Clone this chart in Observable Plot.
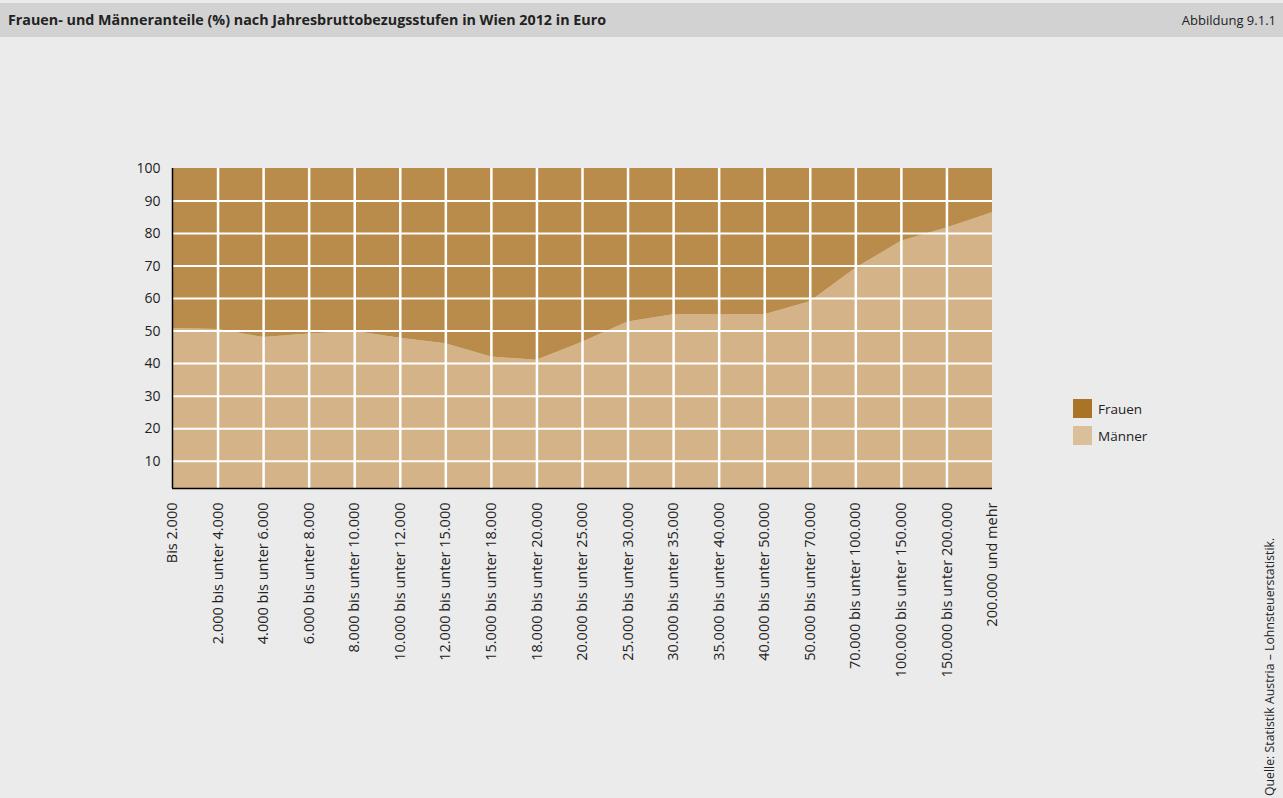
<!DOCTYPE html>
<html>
<head>
<meta charset="utf-8">
<script src="https://cdn.jsdelivr.net/npm/d3@7"></script>
<script src="https://cdn.jsdelivr.net/npm/@observablehq/plot@0.6"></script>
<style>
  html, body { margin: 0; padding: 0; background: #ebebeb; width: 1283px; height: 798px; overflow: hidden; font-family: "Open Sans", "DejaVu Sans", sans-serif; color: #222; }
  #header { position: absolute; left: 0; top: 3px; width: 1283px; height: 34px; background: #d2d2d2; }
  #title { position: absolute; left: 8px; top: 7px; font-size: 14.3px; line-height: 20px; font-weight: bold; white-space: nowrap; }
  #fig { position: absolute; right: 7px; top: 7px; font-size: 13px; line-height: 20px; white-space: nowrap; }
  #chart { position: absolute; left: 0; top: 37px; }
  #legend { position: absolute; left: 1073px; top: 395px; font-size: 13.5px; }
  .item { display: flex; align-items: center; height: 27px; }
  .sw { width: 19px; height: 19px; margin-right: 6px; }
  #source { position: absolute; left: 1262px; top: 796px; transform-origin: 0 0; transform: rotate(-90deg); font-size: 12.3px; line-height: 16px; white-space: nowrap; }
</style>
</head>
<body>
<div id="header"><div id="title">Frauen- und Männeranteile (%) nach Jahresbruttobezugsstufen in Wien 2012 in Euro</div><div id="fig">Abbildung 9.1.1</div></div>
<div id="chart"></div>
<div id="legend"></div>
<div id="source">Quelle: Statistik Austria – Lohnsteuerstatistik.</div>
<script>
const categories = [
  "Bis 2.000",
  "2.000 bis unter 4.000",
  "4.000 bis unter 6.000",
  "6.000 bis unter 8.000",
  "8.000 bis unter 10.000",
  "10.000 bis unter 12.000",
  "12.000 bis unter 15.000",
  "15.000 bis unter 18.000",
  "18.000 bis unter 20.000",
  "20.000 bis unter 25.000",
  "25.000 bis unter 30.000",
  "30.000 bis unter 35.000",
  "35.000 bis unter 40.000",
  "40.000 bis unter 50.000",
  "50.000 bis unter 70.000",
  "70.000 bis unter 100.000",
  "100.000 bis unter 150.000",
  "150.000 bis unter 200.000",
  "200.000 und mehr"
];
const maenner = [50.8, 50.5, 48.0, 49.1, 49.9, 47.8, 46.1, 42.0, 41.0, 46.6, 52.8, 55.0, 55.0, 55.0, 59.0, 69.3, 77.6, 81.7, 86.4];
const frauen = maenner.map(v => 100 - v);
const seriesNames = ["Männer", "Frauen"];
const areaColors = ["#d4b388", "#ba8c4c"];
const legendColors = { "Frauen": "#a97425", "Männer": "#dbbf9a" };
const yTicks = [10, 20, 30, 40, 50, 60, 70, 80, 90, 100];

const rows = [];
categories.forEach((c, i) => {
  rows.push({ cat: c, sex: "Männer", value: maenner[i] });
  rows.push({ cat: c, sex: "Frauen", value: frauen[i] });
});

const W = 1283, H = 761;
const plot = Plot.plot({
  width: W,
  height: H,
  marginLeft: 172,
  marginRight: 291,
  marginTop: 131,
  marginBottom: 310,
  style: { background: "transparent", fontFamily: "'Open Sans', sans-serif", fontSize: "13px", color: "#222" },
  x: { type: "point", domain: categories, padding: 0, round: false, inset: 0, axis: null, label: null },
  y: { domain: [1.6, 100], axis: null, label: null },
  color: { domain: seriesNames, range: areaColors },
  marks: [
    Plot.areaY(rows, { x: "cat", y: "value", fill: "sex", order: seriesNames, clip: true, curve: "linear" }),
    Plot.ruleY(yTicks.slice(0, -1), { stroke: "white", strokeWidth: 2 }),
    Plot.ruleX(categories.slice(1, -1), { stroke: "white", strokeWidth: 2.5 }),
    Plot.ruleX([categories[0]], { stroke: "black", strokeWidth: 1.5 }),
    Plot.ruleY([1.6], { stroke: "black", strokeWidth: 1.5 }),
    Plot.axisY({ ticks: yTicks, tickSize: 0, tickPadding: 12, fontSize: 14, fill: "#222", label: null }),
    Plot.axisX({ tickSize: 0, tickRotate: -90, tickPadding: 14, fontSize: 14.5, fill: "#222", label: null })
  ]
});
document.getElementById("chart").appendChild(plot);

const legend = document.getElementById("legend");
["Frauen", "Männer"].forEach(n => {
  const d = document.createElement("div");
  d.className = "item";
  d.innerHTML = `<div class="sw" style="background:${legendColors[n]}"></div><span>${n}</span>`;
  legend.appendChild(d);
});
</script>
</body>
</html>
